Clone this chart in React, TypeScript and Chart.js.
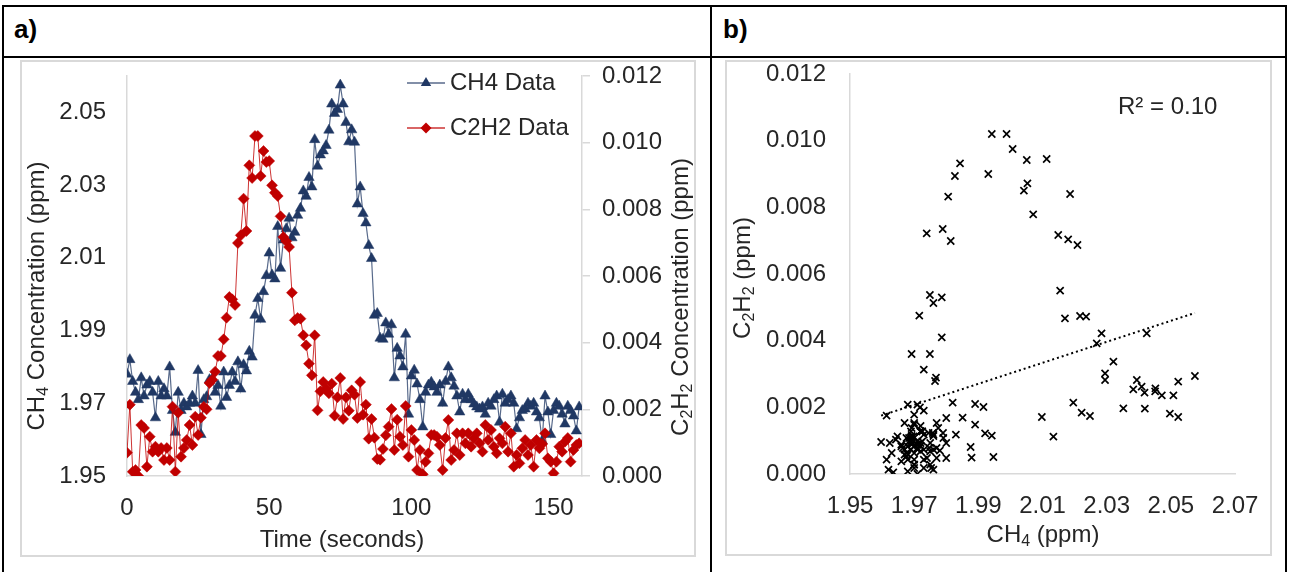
import { useEffect, useRef } from 'react';
import { Chart, registerables } from 'chart.js';

Chart.register(...registerables);

// ---- data -------------------------------------------------------------

const TIME_S = [
  0, 1, 2, 3, 4, 5, 6, 7, 8, 9, 10, 11, 12, 13, 14, 15, 16, 17, 18, 19,
  20, 21, 22, 23, 24, 25, 26, 27, 28, 29, 30, 31, 32, 33, 34, 35, 36, 37, 38, 39,
  40, 41, 42, 43, 44, 45, 46, 47, 48, 49, 50, 51, 52, 53, 54, 55, 56, 57, 58, 59,
  60, 61, 62, 63, 64, 65, 66, 67, 68, 69, 70, 71, 72, 73, 74, 75, 76, 77, 78, 79,
  80, 81, 82, 83, 84, 85, 86, 87, 88, 89, 90, 91, 92, 93, 94, 95, 96, 97, 98, 99,
  100, 101, 102, 103, 104, 105, 106, 107, 108, 109, 110, 111, 112, 113, 114, 115, 116, 117, 118, 119,
  120, 121, 122, 123, 124, 125, 126, 127, 128, 129, 130, 131, 132, 133, 134, 135, 136, 137, 138, 139,
  140, 141, 142, 143, 144, 145, 146, 147, 148, 149, 150, 151, 152, 153, 154, 155, 156, 157, 158, 159,
];

const CH4_PPM = [
  1.978, 1.982, 1.976, 1.973, 1.971, 1.977, 1.972, 1.975, 1.976, 1.973,
  1.966, 1.976, 1.972, 1.974, 1.972, 1.980, 1.968, 1.962, 1.973, 1.968,
  1.970, 1.969, 1.970, 1.972, 1.970, 1.979, 1.9614, 1.971, 1.9718, 1.9765,
  1.9768, 1.973, 1.9749, 1.9692, 1.9786, 1.9716, 1.9749, 1.9786, 1.976, 1.9814,
  1.9739, 1.9806, 1.9789, 1.9843, 1.9827, 1.9942, 1.9988, 1.9931, 2.0007, 2.0051,
  2.0113, 2.0053, 2.0042, 2.0186, 2.0071, 2.0149, 2.018, 2.0209, 2.0155, 2.017,
  2.0217, 2.0236, 2.0284, 2.0269, 2.0321, 2.0295, 2.0425, 2.0352, 2.0383, 2.0394,
  2.0409, 2.0451, 2.0523, 2.0497, 2.0508, 2.0575, 2.0523, 2.0472, 2.0419, 2.0452,
  2.0418, 2.0248, 2.0295, 2.0222, 2.0196, 2.0134, 2.0098, 1.9942, 1.9947, 1.9879,
  1.9876, 1.9921, 1.989, 1.9916, 1.977, 1.9851, 1.983, 1.980, 1.989, 1.967,
  1.9775, 1.9791, 1.9753, 1.971, 1.9635, 1.973, 1.975, 1.9758, 1.9745, 1.973,
  1.975, 1.970, 1.976, 1.980, 1.977, 1.9747, 1.972, 1.9676, 1.9725, 1.971,
  1.9725, 1.971, 1.9698, 1.969, 1.9684, 1.969, 1.967, 1.970, 1.9692, 1.971,
  1.972, 1.9648, 1.9725, 1.970, 1.971, 1.972, 1.970, 1.963, 1.966, 1.968,
  1.9684, 1.970, 1.9692, 1.970, 1.9676, 1.966, 1.9597, 1.972, 1.9676, 1.9614,
  1.968, 1.970, 1.9692, 1.967, 1.9643, 1.9692, 1.968, 1.9665, 1.9624, 1.969,
];

const C2H2_PPM = [
  0.0007, 0.00214, 0.00013, 0.00018, 0.0, 0.00153, 0.00144, 0.00028, 0.00118, 0.00073,
  0.00088, 0.00073, 0.00084, 0.00048, 0.00084, 0.00048, 0.00208, 0.00013, 0.0019, 0.00058,
  0.00084, 0.00108, 0.00153, 0.00093, 0.00178, 0.00123, 0.00175, 0.00208, 0.002, 0.00279,
  0.00289, 0.00313, 0.0036, 0.0036, 0.0041, 0.00475, 0.00537, 0.0053, 0.00513, 0.00699,
  0.00722, 0.00832, 0.00735, 0.00932, 0.00894, 0.0102, 0.0102, 0.009, 0.00975, 0.00942,
  0.00945, 0.00872, 0.0085, 0.0084, 0.00779, 0.00717, 0.00704, 0.00687, 0.0055, 0.00467,
  0.00474, 0.00472, 0.00422, 0.00392, 0.00337, 0.00302, 0.00422, 0.00197, 0.00254, 0.00282,
  0.00262, 0.00248, 0.00277, 0.00181, 0.00236, 0.00294, 0.00171, 0.00236, 0.00196, 0.00257,
  0.00244, 0.00174, 0.00282, 0.00184, 0.00214, 0.00112, 0.00171, 0.00115, 0.00051, 0.00049,
  0.00081, 0.00122, 0.00148, 0.00201, 0.00078, 0.00169, 0.00118, 0.00093, 0.0021, 0.00058,
  0.00138, 0.00108, 0.00018, 0.00078, 0.00005, 0.00043, 0.00068, 0.00123, 0.00123, 0.00118,
  0.00093, 0.00018, 0.00114, 0.00168, 0.00048, 0.00078, 0.00128, 0.00063, 0.00128, 0.00098,
  0.00128, 0.00088, 0.00113, 0.00128, 0.00098, 0.00073, 0.00153, 0.00108, 0.00138, 0.00088,
  0.00068, 0.00113, 0.00098, 0.00148, 0.00073, 0.00128, 0.00028, 0.00063, 0.00038, 0.00083,
  0.00108, 0.00063, 0.00093, 0.00028, 0.00108, 0.00083, 0.00096, 0.00128, 0.00053, 0.00043,
  0.00008, 0.00043, 0.00088, 0.00073, 0.00103, 0.00114, 0.00043, 0.00078, 0.00093, 0.00098,
];

const TIME_TICKS = [0, 50, 100, 150];
const CH4_TICKS = [1.95, 1.97, 1.99, 2.01, 2.03, 2.05];
const C2H2_TICKS = [0, 0.002, 0.004, 0.006, 0.008, 0.01, 0.012];
const SCATTER_CH4_TICKS = [1.95, 1.97, 1.99, 2.01, 2.03, 2.05, 2.07];

// linear trend of C2H2 against CH4
const TREND_SLOPE = 0.0315;
const TREND_INTERCEPT = -0.05998;
const R_SQUARED = 0.1;

// ---- styling ----------------------------------------------------------

const FONT = "'Liberation Sans', Arial, Helvetica, sans-serif";
const HEADER_FONT = "'Liberation Sans Narrow', 'Arial Narrow', 'Liberation Sans', Arial, sans-serif";
const TEXT = '#262626';
const AXIS_GRAY = '#d9d9d9';
const NAVY = '#203864';
const NAVY_LINE = 'rgba(32,56,100,0.75)';
const RED = '#c00000';
const RED_LINE = 'rgba(192,0,0,0.8)';

type Seg = { text: string; sub?: boolean };

const TITLE_CH4_CONC: Seg[] = [{ text: 'CH' }, { text: '4', sub: true }, { text: ' Concentration (ppm)' }];
const TITLE_C2H2_CONC: Seg[] = [
  { text: 'C' }, { text: '2', sub: true }, { text: 'H' }, { text: '2', sub: true }, { text: ' Concentration (ppm)' },
];
const TITLE_TIME: Seg[] = [{ text: 'Time (seconds)' }];
const TITLE_C2H2: Seg[] = [
  { text: 'C' }, { text: '2', sub: true }, { text: 'H' }, { text: '2', sub: true }, { text: ' (ppm)' },
];
const TITLE_CH4: Seg[] = [{ text: 'CH' }, { text: '4', sub: true }, { text: ' (ppm)' }];

function drawRichText(ctx: CanvasRenderingContext2D, segs: Seg[], cx: number, cy: number, rotation: number, size: number) {
  const main = `${size}px ${FONT}`;
  const sub = `${Math.round(size * 0.66)}px ${FONT}`;
  ctx.save();
  ctx.translate(cx, cy);
  ctx.rotate(rotation);
  ctx.fillStyle = TEXT;
  ctx.textBaseline = 'middle';
  ctx.textAlign = 'left';
  let total = 0;
  for (const s of segs) {
    ctx.font = s.sub ? sub : main;
    total += ctx.measureText(s.text).width;
  }
  let x = -total / 2;
  for (const s of segs) {
    ctx.font = s.sub ? sub : main;
    ctx.fillText(s.text, x, s.sub ? size * 0.27 : 0);
    x += ctx.measureText(s.text).width;
  }
  ctx.restore();
}

const tickFont = { family: FONT, size: 24 };

function fixedTicks(values: number[]) {
  return (scale: any) => {
    scale.ticks = values.map((value) => ({ value }));
  };
}

// fixed axis size; label overhang is absorbed by the layout padding
function fixWidth(w: number) {
  return (s: any) => {
    s.width = w;
    s.paddingTop = 0;
    s.paddingBottom = 0;
  };
}
function fixHeight(h: number) {
  return (s: any) => {
    s.height = h;
    s.paddingLeft = 0;
    s.paddingRight = 0;
  };
}

export default function App() {
  const timeRef = useRef<HTMLCanvasElement>(null);
  const scatterRef = useRef<HTMLCanvasElement>(null);

  useEffect(() => {
    if (!timeRef.current || !scatterRef.current) return;

    const timeTitles = {
      id: 'timeTitles',
      afterDraw(chart: any) {
        const ctx = chart.ctx as CanvasRenderingContext2D;
        drawRichText(ctx, TITLE_CH4_CONC, 17, 236, -Math.PI / 2, 24);
        drawRichText(ctx, TITLE_C2H2_CONC, 661, 237, -Math.PI / 2, 24);
        drawRichText(ctx, TITLE_TIME, 322, 480, 0, 24);

        // series key
        ctx.save();
        const rows = [
          { label: 'CH4 Data', color: NAVY, line: NAVY_LINE, y: 23, shape: 'triangle' },
          { label: 'C2H2 Data', color: RED, line: RED_LINE, y: 68, shape: 'diamond' },
        ];
        for (const r of rows) {
          ctx.strokeStyle = r.line;
          ctx.lineWidth = 1.5;
          ctx.beginPath();
          ctx.moveTo(387, r.y);
          ctx.lineTo(425, r.y);
          ctx.stroke();
          ctx.fillStyle = r.color;
          ctx.beginPath();
          if (r.shape === 'triangle') {
            ctx.moveTo(406, r.y - 6);
            ctx.lineTo(411.2, r.y + 3);
            ctx.lineTo(400.8, r.y + 3);
          } else {
            ctx.moveTo(406, r.y - 5.5);
            ctx.lineTo(411.5, r.y);
            ctx.lineTo(406, r.y + 5.5);
            ctx.lineTo(400.5, r.y);
          }
          ctx.closePath();
          ctx.fill();
          ctx.fillStyle = TEXT;
          ctx.font = `24px ${FONT}`;
          ctx.textBaseline = 'middle';
          ctx.textAlign = 'left';
          ctx.fillText(r.label, 430, r.y);
        }
        ctx.restore();
      },
    };

    const timeChart = new Chart(timeRef.current, {
      type: 'line',
      data: {
        datasets: [
          {
            label: 'CH4 Data',
            data: TIME_S.map((t, i) => ({ x: t, y: CH4_PPM[i] })),
            yAxisID: 'y',
            borderColor: NAVY_LINE,
            borderWidth: 1.2,
            pointStyle: 'triangle',
            pointRadius: 6,
            pointBackgroundColor: NAVY,
            pointBorderColor: NAVY,
            pointBorderWidth: 0.5,
            order: 2,
          },
          {
            label: 'C2H2 Data',
            data: TIME_S.map((t, i) => ({ x: t, y: C2H2_PPM[i] })),
            yAxisID: 'y1',
            borderColor: RED_LINE,
            borderWidth: 1,
            pointStyle: 'rectRot',
            pointRadius: 5.5,
            pointBackgroundColor: RED,
            pointBorderColor: RED,
            pointBorderWidth: 0.5,
            order: 1,
          },
        ],
      },
      options: {
        responsive: false,
        animation: false,
        events: [],
        layout: { padding: { top: 16, left: 0, right: 0, bottom: 0 } },
        plugins: { legend: { display: false }, tooltip: { enabled: false } },
        scales: {
          x: {
            type: 'linear',
            min: 0,
            max: 160,
            afterBuildTicks: fixedTicks(TIME_TICKS),
            afterFit: fixHeight(81),
            grid: { display: false },
            border: { display: true, color: AXIS_GRAY, width: 1.5 },
            ticks: {
              autoSkip: false, maxRotation: 0, padding: 10, color: TEXT, font: tickFont,
              callback: (v: any) => String(v),
            },
          },
          y: {
            type: 'linear',
            position: 'left',
            min: 1.95,
            max: 2.06,
            afterBuildTicks: fixedTicks(CH4_TICKS),
            afterFit: fixWidth(107),
            grid: { display: false },
            border: { display: true, color: AXIS_GRAY, width: 1.5 },
            ticks: {
              padding: 13, color: TEXT, font: tickFont,
              callback: (v: any) => Number(v).toFixed(2),
            },
          },
          y1: {
            type: 'linear',
            position: 'right',
            min: 0,
            max: 0.012,
            afterBuildTicks: fixedTicks(C2H2_TICKS),
            afterFit: fixWidth(114),
            grid: { display: true, drawOnChartArea: false, drawTicks: true, tickLength: 8, color: AXIS_GRAY, lineWidth: 1.5 },
            border: { display: true, color: AXIS_GRAY, width: 1.5 },
            ticks: {
              padding: 12, color: TEXT, font: tickFont,
              callback: (v: any) => Number(v).toFixed(3),
            },
          },
        },
      },
      plugins: [timeTitles],
    } as any);

    const scatterTitles = {
      id: 'scatterTitles',
      afterDraw(chart: any) {
        const ctx = chart.ctx as CanvasRenderingContext2D;
        drawRichText(ctx, TITLE_C2H2, 18, 218, -Math.PI / 2, 24);
        drawRichText(ctx, TITLE_CH4, 318, 475, 0, 24);
        ctx.save();
        ctx.fillStyle = TEXT;
        ctx.font = `24px ${FONT}`;
        ctx.textBaseline = 'middle';
        ctx.textAlign = 'left';
        ctx.fillText(`R² = ${R_SQUARED.toFixed(2)}`, 393, 47);
        ctx.restore();
      },
    };

    const ch4Min = Math.min(...CH4_PPM);
    const ch4Max = Math.max(...CH4_PPM);

    const scatterChart = new Chart(scatterRef.current, {
      type: 'scatter',
      data: {
        datasets: [
          {
            label: 'C2H2 vs CH4',
            data: CH4_PPM.map((x, i) => ({ x, y: C2H2_PPM[i] })),
            pointStyle: 'crossRot',
            pointRadius: 5,
            pointBorderColor: '#000',
            pointBackgroundColor: '#000',
            pointBorderWidth: 1.7,
            order: 1,
          },
          {
            label: 'Linear trend',
            data: [ch4Min, ch4Max].map((x) => ({ x, y: TREND_SLOPE * x + TREND_INTERCEPT })),
            showLine: true,
            pointRadius: 0,
            borderColor: '#000',
            borderWidth: 2,
            borderDash: [2, 3],
            order: 2,
          },
        ],
      },
      options: {
        responsive: false,
        animation: false,
        events: [],
        layout: { padding: { top: 14, left: 0, right: 37, bottom: 0 } },
        plugins: { legend: { display: false }, tooltip: { enabled: false } },
        scales: {
          x: {
            type: 'linear',
            min: 1.95,
            max: 2.07,
            afterBuildTicks: fixedTicks(SCATTER_CH4_TICKS),
            afterFit: fixHeight(82),
            grid: { display: false },
            border: { display: true, color: AXIS_GRAY, width: 1.5 },
            ticks: {
              autoSkip: false, maxRotation: 0, padding: 10, color: TEXT, font: tickFont,
              callback: (v: any) => Number(v).toFixed(2),
            },
          },
          y: {
            type: 'linear',
            min: 0,
            max: 0.012,
            afterBuildTicks: fixedTicks(C2H2_TICKS),
            afterFit: fixWidth(125),
            grid: { display: false },
            border: { display: true, color: AXIS_GRAY, width: 1.5 },
            ticks: {
              padding: 16, color: TEXT, font: tickFont,
              callback: (v: any) => Number(v).toFixed(3),
            },
          },
        },
      },
      plugins: [scatterTitles],
    } as any);

    return () => {
      timeChart.destroy();
      scatterChart.destroy();
    };
  }, []);

  const abs = (left: number, top: number, width: number, height: number): React.CSSProperties => ({
    position: 'absolute', left, top, width, height, boxSizing: 'border-box',
  });

  const header: React.CSSProperties = {
    position: 'absolute', top: 16, fontFamily: HEADER_FONT, fontWeight: 'bold',
    fontSize: 26, lineHeight: '26px', color: '#000', whiteSpace: 'nowrap',
  };

  return (
    <div style={{ position: 'fixed', left: 0, top: 0, width: 1289, height: 572, background: '#fff', overflow: 'hidden' }}>
      <div style={{ ...abs(2, 5, 1285, 620), border: '2px solid #000' }} />
      <div style={{ ...abs(2, 56, 1285, 2), background: '#000' }} />
      <div style={{ ...abs(710, 5, 2, 620), background: '#000' }} />
      <div style={{ ...header, left: 14 }}>a)</div>
      <div style={{ ...header, left: 723 }}>b)</div>

      <canvas ref={timeRef} width={676} height={497} style={{ position: 'absolute', left: 20, top: 60 }} />
      <div style={{ ...abs(20, 60, 676, 497), border: `2px solid ${AXIS_GRAY}`, pointerEvents: 'none' }} />

      <canvas ref={scatterRef} width={547} height={496} style={{ position: 'absolute', left: 725, top: 60 }} />
      <div style={{ ...abs(725, 60, 547, 496), border: `2px solid ${AXIS_GRAY}`, pointerEvents: 'none' }} />
    </div>
  );
}
